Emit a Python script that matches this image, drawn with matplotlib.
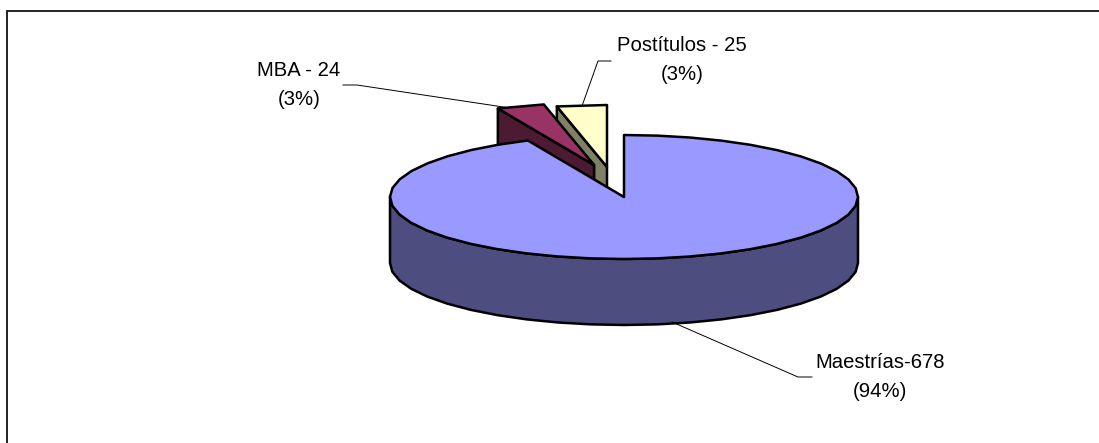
import numpy as np
import matplotlib
matplotlib.use("Agg")
import matplotlib.pyplot as plt
from matplotlib.patches import Polygon

plt.rcParams['font.family'] = ['Liberation Sans', 'DejaVu Sans']

etiquetas = ["Maestrías-678\n(94%)", "MBA - 24\n(3%)", "Postítulos - 25\n(3%)"]
valores = [678, 24, 25]

colores_arriba = ["#9999FF", "#993366", "#FFFFCC"]
colores_lado = ["#4D4D80", "#4D1A33", "#808066"]

# geometria de la torta, en pixeles de la figura
cx, cy = 624, 197
rx, ry = 234, 62
alto = 66
# desplazamiento de las porciones separadas
separacion = [(0, 0), (-30, -32), (-17, -30)]


def punto(grados, centro):
    # angulo en sentido horario desde arriba
    t = np.radians(grados)
    return centro[0] + rx * np.sin(t), centro[1] - ry * np.cos(t)


def arco(a, b, centro):
    # tramos gruesos, el original tiene el borde quebrado
    n = max(2, int(abs(b - a) / 8) + 1)
    return [punto(g, centro) for g in np.linspace(a, b, n)]


fig = plt.figure(figsize=(10.99, 4.43), dpi=100)
ax = fig.add_axes([0, 0, 1, 1])
ax.set_xlim(0, 1099)
ax.set_ylim(443, 0)
ax.axis("off")

# el marco solo se ve arriba y a la izquierda
ax.plot([1099, 7, 7], [10.5, 10.5, 443], color="#111111", lw=1.3, solid_joinstyle="miter")

total = sum(valores)
angulos = np.cumsum([0] + [v / total * 360 for v in valores])
estilo = dict(edgecolor="black", lw=1.8, joinstyle="round")

# Postitulos
a0, a1 = angulos[2], angulos[3]
c = (cx + separacion[2][0], cy + separacion[2][1])
p0 = punto(a0, c)
ax.add_patch(Polygon([p0, c, (c[0], c[1] + alto), (c[0] - 13, c[1] + alto), (c[0] - 13, c[1] - 2),
                      (p0[0], p0[1] + 16)], facecolor=colores_lado[2], zorder=2, **estilo))
ax.add_patch(Polygon([c] + arco(a0, a1, c), facecolor=colores_arriba[2], zorder=2, **estilo))

# MBA
a0, a1 = angulos[1], angulos[2]
c = (cx + separacion[1][0], cy + separacion[1][1])
p0 = punto(a0, c)
ax.add_patch(Polygon([p0, c, (c[0], c[1] + alto), (p0[0], p0[1] + alto)],
                     facecolor=colores_lado[1], zorder=3, **estilo))
ax.add_patch(Polygon([c] + arco(a0, a1, c), facecolor=colores_arriba[1], zorder=3, **estilo))

# Maestrias, la porcion grande
a0, a1 = angulos[0], angulos[1]
c = (cx, cy)
frente = arco(90, 270, c)
ax.add_patch(Polygon(frente + [(x, y + alto) for x, y in frente[::-1]],
                     facecolor=colores_lado[0], zorder=4, **estilo))
ax.add_patch(Polygon([c] + arco(a0, a1, c), facecolor=colores_arriba[0], zorder=4, **estilo))

# lineas guia
ax.plot([672, 798, 812], [322, 377, 377], color="black", lw=0.7, zorder=5)
ax.plot([343, 357, 510], [85, 85, 108], color="black", lw=0.7, zorder=1)
ax.plot([611, 598, 582], [61, 61, 106], color="black", lw=0.7, zorder=1)

texto = dict(ha="center", va="center", fontsize=14.6, linespacing=1.72)
ax.text(880, 377, etiquetas[0], **texto)
ax.text(299, 85, etiquetas[1], **texto)
ax.text(682, 60, etiquetas[2], **texto)

fig.savefig("out.png", dpi=100)
